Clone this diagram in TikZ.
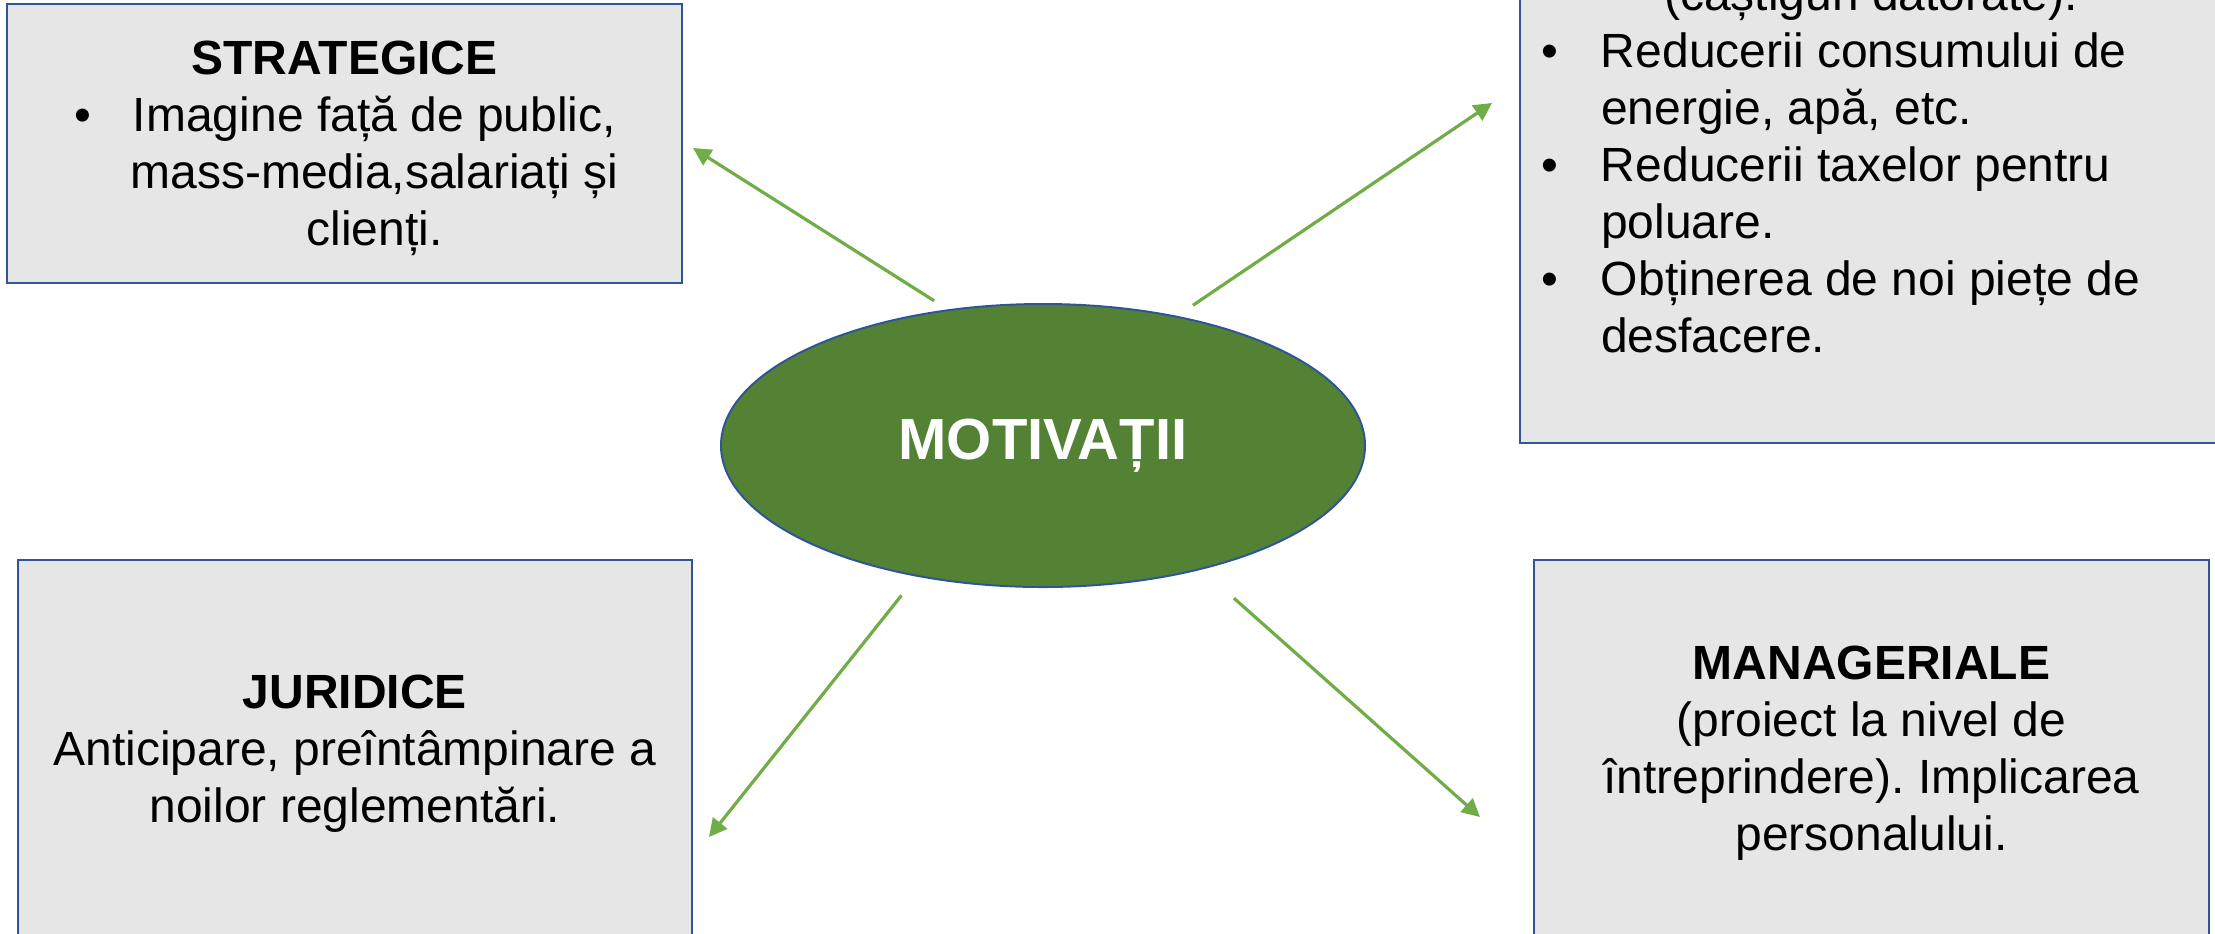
\documentclass[tikz,border=0pt]{standalone}
\usepackage{fontspec}
\setmainfont{Liberation Sans}
\usepackage{xcolor}
\usetikzlibrary{shapes.geometric, arrows.meta}
\frenchspacing

\definecolor{boxblue}{HTML}{2F5597}
\definecolor{boxgrey}{HTML}{E7E6E6}
\definecolor{motivgreen}{HTML}{548235}
\definecolor{arrowgreen}{HTML}{70AD47}

\newcommand{\bulc}[1]{\makebox[30pt][l]{\hspace{5pt}\textbullet}\makebox[250pt]{#1}}
\newcommand{\contc}[1]{\hspace{30pt}\makebox[250pt]{#1}}
\newcommand{\bull}[1]{\makebox[330pt][l]{\makebox[30pt][l]{\textbullet}#1}}
\newcommand{\contl}[1]{\makebox[330pt][l]{\hspace{30pt}#1}}

\begin{document}
\begin{tikzpicture}[
    x=0.5pt, y=-0.5pt,
    box/.style={rectangle, draw=boxblue, fill=boxgrey, line width=1pt, align=center, inner sep=0pt, font=\fontsize{24}{28.5}\selectfont},
    hub/.style={ellipse, draw=boxblue, fill=motivgreen, line width=1pt, inner sep=0pt, minimum width=322pt, minimum height=141.5pt, text=white, font=\fontsize{29}{33}\selectfont\bfseries},
    arrow/.style={-{Triangle[length=9pt, width=9pt]}, line width=1.6pt, arrowgreen}
]
\useasboundingbox (0,0) rectangle (2215,933);
\clip (0,0) rectangle (2215,933);

\node[hub] (motiv) at (1043,445.5) {MOTIVAȚII};

\node[box, minimum width=337.5pt, minimum height=139.5pt] (strat) at (344.5,143.5) {\rule{0pt}{22pt}\textbf{STRATEGICE}\\
    \bulc{Imagine față de public,}\\ \contc{mass-media,salariați și}\\ \contc{clienți.}};
\node[box, minimum width=351pt, minimum height=279pt] (econ) at (1871,164) {(câștiguri datorate).\\
    \bull{Reducerii consumului de}\\ \contl{energie, apă, etc.}\\
    \bull{Reducerii taxelor pentru}\\ \contl{poluare.}\\
    \bull{Obținerea de noi piețe de}\\ \contl{desfacere.}};
\node[box, minimum width=337pt, minimum height=193.5pt] (jur) at (355,753.5) {\textbf{JURIDICE}\\ Anticipare, preîntâmpinare a\\ noilor reglementări.};
\node[box, minimum width=337.5pt, minimum height=193pt] (manag) at (1871.5,753) {\textbf{MANAGERIALE}\\ (proiect la nivel de\\ întreprindere). Implicarea\\ personalului.};

\coordinate (toStrat) at (693,148);
\coordinate (toEcon) at (1492,103);
\coordinate (toJur) at (709,837);
\coordinate (toManag) at (1480,817);

\draw[arrow, shorten <=8pt] (motiv.125) -- (toStrat);
\draw[arrow, shorten <=9.5pt] (motiv.44) -- (toEcon);
\draw[arrow, shorten <=12pt] (motiv.226) -- (toJur);
\draw[arrow, shorten <=21.5pt] (motiv.322) -- (toManag);

\end{tikzpicture}
\end{document}
